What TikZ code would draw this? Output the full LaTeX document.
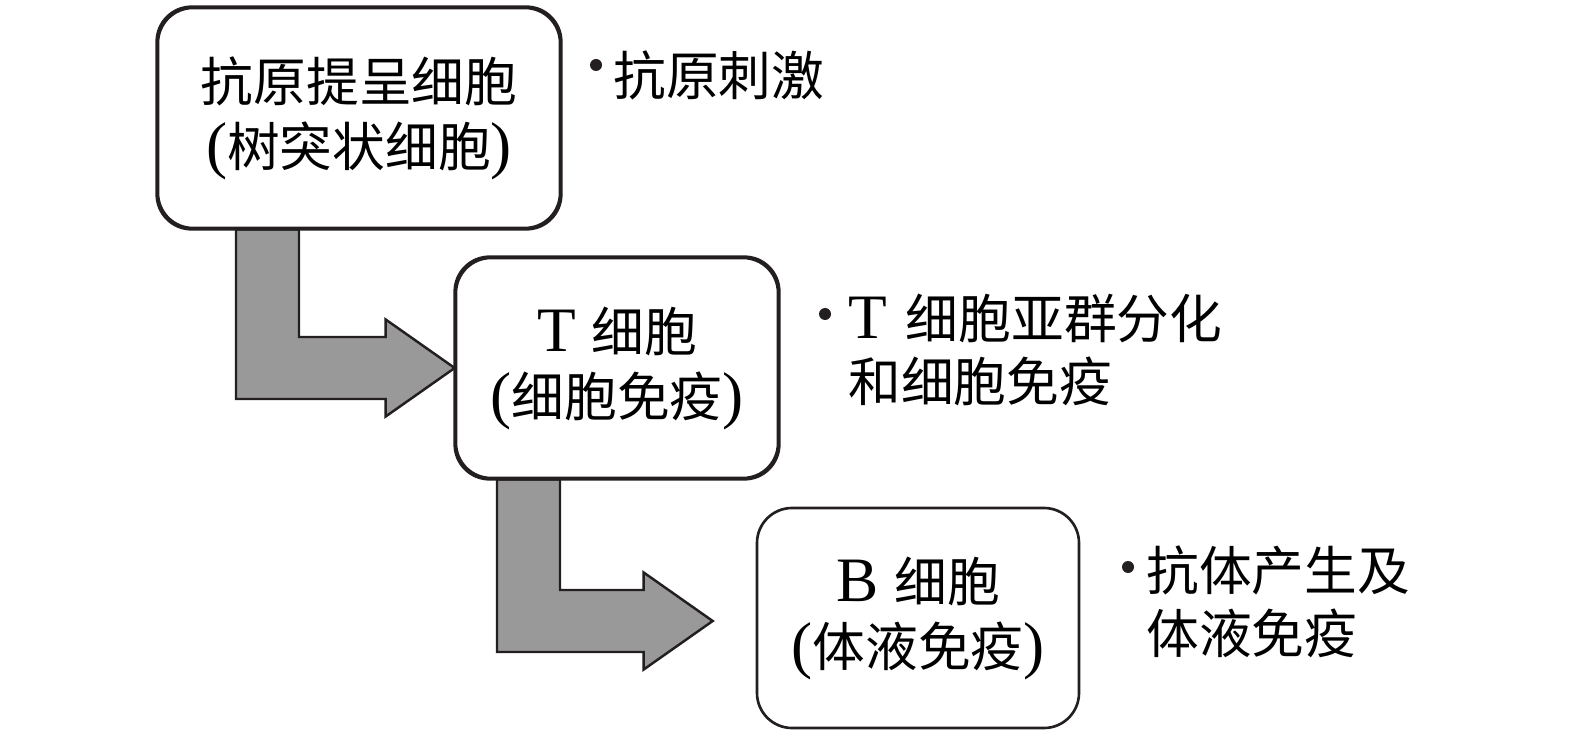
\documentclass[tikz,border=0pt]{standalone}
\usepackage{fontspec}
\setmainfont{Liberation Serif}[Scale=1.2]
\newfontfamily\cjk{Noto Sans CJK SC}
\newcommand{\zh}[1]{{\cjk #1}}
\usetikzlibrary{calc}
\definecolor{arrowgray}{HTML}{999999}
\definecolor{inkblack}{HTML}{231F20}
\tikzset{
  cellbox/.style={draw=inkblack, line width=1.5pt, fill=white, rounded corners=0.7cm,
    minimum height=4.4cm, align=center, inner sep=0pt, font=\fontsize{30}{37}\selectfont},
  flowarrow/.style={draw=inkblack, line width=1.4pt, fill=arrowgray, line join=miter},
  note/.style={anchor=west, align=left, inner sep=0pt, font=\fontsize{30}{36}\selectfont},
  dot/.style={circle, fill=inkblack, inner sep=0pt, minimum size=0.24cm}
}
\begin{document}
\begin{tikzpicture}
\useasboundingbox (0,0) rectangle (31.5,-14.76);
% cells
\node[cellbox, minimum width=8.04cm] (apc) at (7.18,-2.36) {\zh{抗原提呈细胞}\\(\zh{树突状细胞})};
\node[cellbox, minimum width=6.44cm] (tcell) at (12.34,-7.36) {T\hspace{0.25em}\zh{细胞}\\(\zh{细胞免疫})};
\node[cellbox, minimum width=6.44cm] (bcell) at (18.36,-12.36) {B\hspace{0.25em}\zh{细胞}\\(\zh{体液免疫})};
% bent arrows
\coordinate (s1) at ($(apc.south)+(-2.46,0)$);
\coordinate (s2) at ($(tcell.south)+(-2.4,0)$);
\coordinate (tip2) at ($(bcell.west)+(-0.86,-0.06)$);
\draw[flowarrow] (s1) -- ++(1.26,0) |- ($(tcell.west)+(-1.38,0.62)$) -- ++(0,0.35) -- (tcell.west)
  -- ++(-1.38,-0.97) -- ++(0,0.35) -| (s1);
\draw[flowarrow] (s2) -- ++(1.26,0) |- ($(tip2)+(-1.38,0.62)$) -- ++(0,0.35) -- (tip2)
  -- ++(-1.38,-0.97) -- ++(0,0.35) -| (s2);
% redraw box borders over arrow ends
\draw[draw=inkblack, line width=1.5pt, rounded corners=0.7cm] (apc.south west) rectangle (apc.north east);
\draw[draw=inkblack, line width=1.5pt, rounded corners=0.7cm] (tcell.south west) rectangle (tcell.north east);
% notes
\node[dot] (d1) at (11.92,-1.3) {};
\node[note] (n1) at (12.26,-1.5) {\zh{抗原刺激}};
\node[dot] (d2) at (16.5,-6.28) {};
\node[note] (n2) at (16.96,-7.0) {T\hspace{0.3em}\zh{细胞亚群分化}\\\zh{和细胞免疫}};
\node[dot] (d3) at (22.56,-11.34) {};
\node[note] (n3) at (22.92,-12.03) {\zh{抗体产生及}\\\zh{体液免疫}};
\end{tikzpicture}
\end{document}
